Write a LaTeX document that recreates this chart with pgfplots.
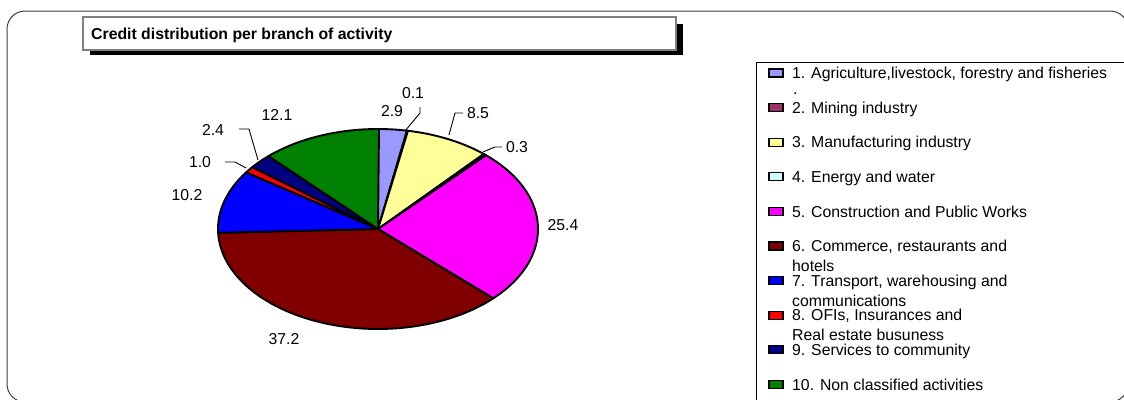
\documentclass[border=0pt]{standalone}
\usepackage{pgfplots}
\usepackage{pgfplotstable}
\pgfplotsset{compat=1.18}
\usepackage{fontspec}
\setmainfont{Liberation Sans}

\definecolor{sl1}{HTML}{9999FF}
\definecolor{sl2}{HTML}{993366}
\definecolor{sl3}{HTML}{FFFF99}
\definecolor{sl4}{HTML}{CCFFFF}
\definecolor{sl5}{HTML}{FF00FF}
\definecolor{sl6}{HTML}{800000}
\definecolor{sl7}{HTML}{0000FF}
\definecolor{sl8}{HTML}{FF0000}
\definecolor{sl9}{HTML}{000080}
\definecolor{sl10}{HTML}{008000}
\definecolor{framegray}{HTML}{404040}

\tikzset{
  slice/.style={draw=black, line width=1.9pt, line join=round},
  leader/.style={draw=black, line width=0.9pt},
  lbl/.style={inner sep=0pt, anchor=center},
  entry/.style={anchor=base west, inner sep=0pt},
}

% credit shares (%) per branch of activity, clockwise from the top
\pgfplotstableread{
share colour
2.9  sl1
0.1  sl2
8.5  sl3
0.3  sl4
25.4 sl5
37.2 sl6
10.2 sl7
1.0  sl8
2.4  sl9
12.1 sl10
}\creditshares

% pie centre and radii (flattened circle)
\newcommand\cx{378}
\newcommand\cy{229}
\newcommand\rx{160}
\newcommand\ry{100}

\begin{document}
\begin{tikzpicture}[font=\fontsize{15.8}{19}\selectfont]
\begin{axis}[
  width=1124pt, height=399pt, scale only axis,
  xmin=0, xmax=1124, ymin=0, ymax=399, y dir=reverse,
  hide axis, clip=false,
]
% outer frame
\draw[framegray, line width=1pt, rounded corners=18pt] (7,11) rectangle (1128,402);
% title box with shadow
\fill[black] (90,24) rectangle (683,55);
\draw[fill=white, draw=gray, line width=1.3pt] (83,17) rectangle (676,50);
\node[anchor=base west, inner sep=0pt, font=\fontsize{15.8}{19}\selectfont\bfseries]
  at (91,39) {Credit distribution per branch of activity};
% legend box
\draw[black, line width=1pt] (756,62) -- (1130,62);
\draw[black, line width=1pt] (756,62) -- (756,420);

% pie slices
\pgfplotstablegetrowsof{\creditshares}
\pgfmathtruncatemacro\lastrow{\pgfplotsretval-1}
\xdef\cumshare{0}
\pgfplotsforeachungrouped \r in {0,...,\lastrow}{%
  \pgfplotstablegetelem{\r}{share}\of\creditshares
  \pgfmathsetmacro\sharestart{\cumshare}
  \pgfmathsetmacro\shareend{\cumshare+\pgfplotsretval}
  \pgfplotstablegetelem{\r}{colour}\of\creditshares
  \edef\slicecolour{\pgfplotsretval}
  \edef\drawslice{\noexpand\addplot[slice, fill=\slicecolour, samples=80, domain=\sharestart:\shareend]
    ({\cx+\rx*sin(3.6*x)}, {\cy-\ry*cos(3.6*x)}) -- (\cx,\cy) -- cycle;}
  \drawslice
  \xdef\cumshare{\shareend}
}

% leader lines
\draw[leader] (420,107) -- (420,113) -- (405,131);
\draw[leader] (463,113) -- (455,113) -- (449,135);
\draw[leader] (502,147) -- (495,147) -- (483,152);
\draw[leader] (239,129) -- (249,129) -- (258,160);
\draw[leader] (225,162) -- (235,162) -- (246,168);

% value labels
\node[lbl] at (392,111) {2.9};
\node[lbl] at (413,93) {0.1};
\node[lbl] at (478,113) {8.5};
\node[lbl] at (517,147) {0.3};
\node[lbl] at (563,225) {25.4};
\node[lbl] at (284,339) {37.2};
\node[lbl] at (187,195) {10.2};
\node[lbl] at (200,162) {1.0};
\node[lbl] at (213,130) {2.4};
\node[lbl] at (277,115) {12.1};

% legend keys
\pgfplotsforeachungrouped \keycol/\keyy in {sl1/73, sl2/107.6, sl3/142.2, sl4/176.8, sl5/211.4,
                    sl6/246, sl7/280.6, sl8/315.2, sl9/349.8, sl10/384.4}{%
  \pgfmathsetmacro\keytop{\keyy-4}
  \pgfmathsetmacro\keybot{\keyy+4}
  \edef\drawkey{\noexpand\draw[fill=\keycol, draw=black, line width=1.2pt] (769,\keytop) rectangle (783,\keybot);}
  \drawkey
}
\node[entry] at (792,78.7) {1. Agriculture,livestock, forestry and fisheries};
\node[entry] at (793,94) {.};
\node[entry] at (792,113.3) {2. Mining industry};
\node[entry] at (792,147.9) {3. Manufacturing industry};
\node[entry] at (792,182.5) {4. Energy and water};
\node[entry] at (792,217.1) {5. Construction and Public Works};
\node[entry] at (792,251.7) {6. Commerce, restaurants and};
\node[entry] at (792,271.5) {hotels};
\node[entry] at (792,286.3) {7. Transport, warehousing and};
\node[entry] at (792,306.1) {communications};
\node[entry] at (792,320.9) {8. OFIs, Insurances and};
\node[entry] at (792,340.7) {Real estate busuness};
\node[entry] at (792,355.5) {9. Services to community};
\node[entry] at (792,390.1) {10. Non classified activities};
\end{axis}
\pgfresetboundingbox
\path[use as bounding box] (current axis.south west) rectangle (current axis.north east);
\end{tikzpicture}
\end{document}
